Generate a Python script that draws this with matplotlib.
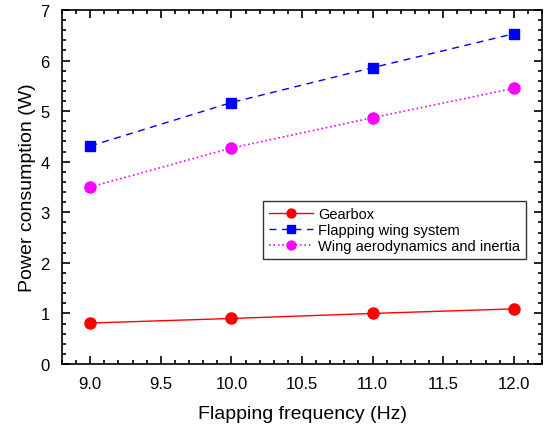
import numpy as np
import matplotlib.pyplot as plt
from matplotlib.ticker import MultipleLocator

plt.rcParams['font.family'] = ['Liberation Sans', 'DejaVu Sans']

# data
freq = [9.0, 10.0, 11.0, 12.0]
gearbox = [0.81, 0.90, 1.00, 1.09]
flapping_system = [4.31, 5.17, 5.86, 6.53]
wing_aero = [3.50, 4.27, 4.87, 5.45]

fig = plt.figure(figsize=(5.47, 4.27), dpi=100)
ax = fig.add_axes([62/547, 62/427, 480/547, 354/427])

ax.plot(freq, gearbox, '-', color='red', marker='o', markersize=8, lw=1, label='Gearbox')
ax.plot(freq, flapping_system, '--', color='blue', marker='s', markersize=7, lw=1,
        dashes=(5, 4), label='Flapping wing system')
ax.plot(freq, wing_aero, ':', color='magenta', marker='o', markersize=8, lw=1.2,
        label='Wing aerodynamics and inertia')

ax.set_xlim(8.8, 12.2)
ax.set_ylim(0, 7)
ax.xaxis.set_major_locator(MultipleLocator(0.5))
ax.xaxis.set_minor_locator(MultipleLocator(0.1))
ax.yaxis.set_major_locator(MultipleLocator(1))
ax.yaxis.set_minor_locator(MultipleLocator(0.2))
ax.xaxis.set_major_formatter(plt.FormatStrFormatter('%.1f'))
ax.tick_params(which='both', direction='in', top=True, right=True, labelsize=12, width=1.2)
ax.tick_params(which='major', length=6, pad=9)
ax.tick_params(which='minor', length=3)
for s in ax.spines.values():
    s.set_linewidth(1.2)

ax.set_xlabel('Flapping frequency (Hz)', fontsize=14, labelpad=10)
ax.set_ylabel('Power consumption (W)', fontsize=14, labelpad=3)

leg = ax.legend(loc='upper left', bbox_to_anchor=((263-62)/480, (365-202)/354), fontsize=10.5,
                frameon=True, fancybox=False, edgecolor='black', borderpad=0.4,
                handlelength=3, labelspacing=0.15, handletextpad=0.4, borderaxespad=0,
                markerscale=0.8)
leg.get_frame().set_linewidth(1.0)

fig.savefig('out.png', dpi=100)
